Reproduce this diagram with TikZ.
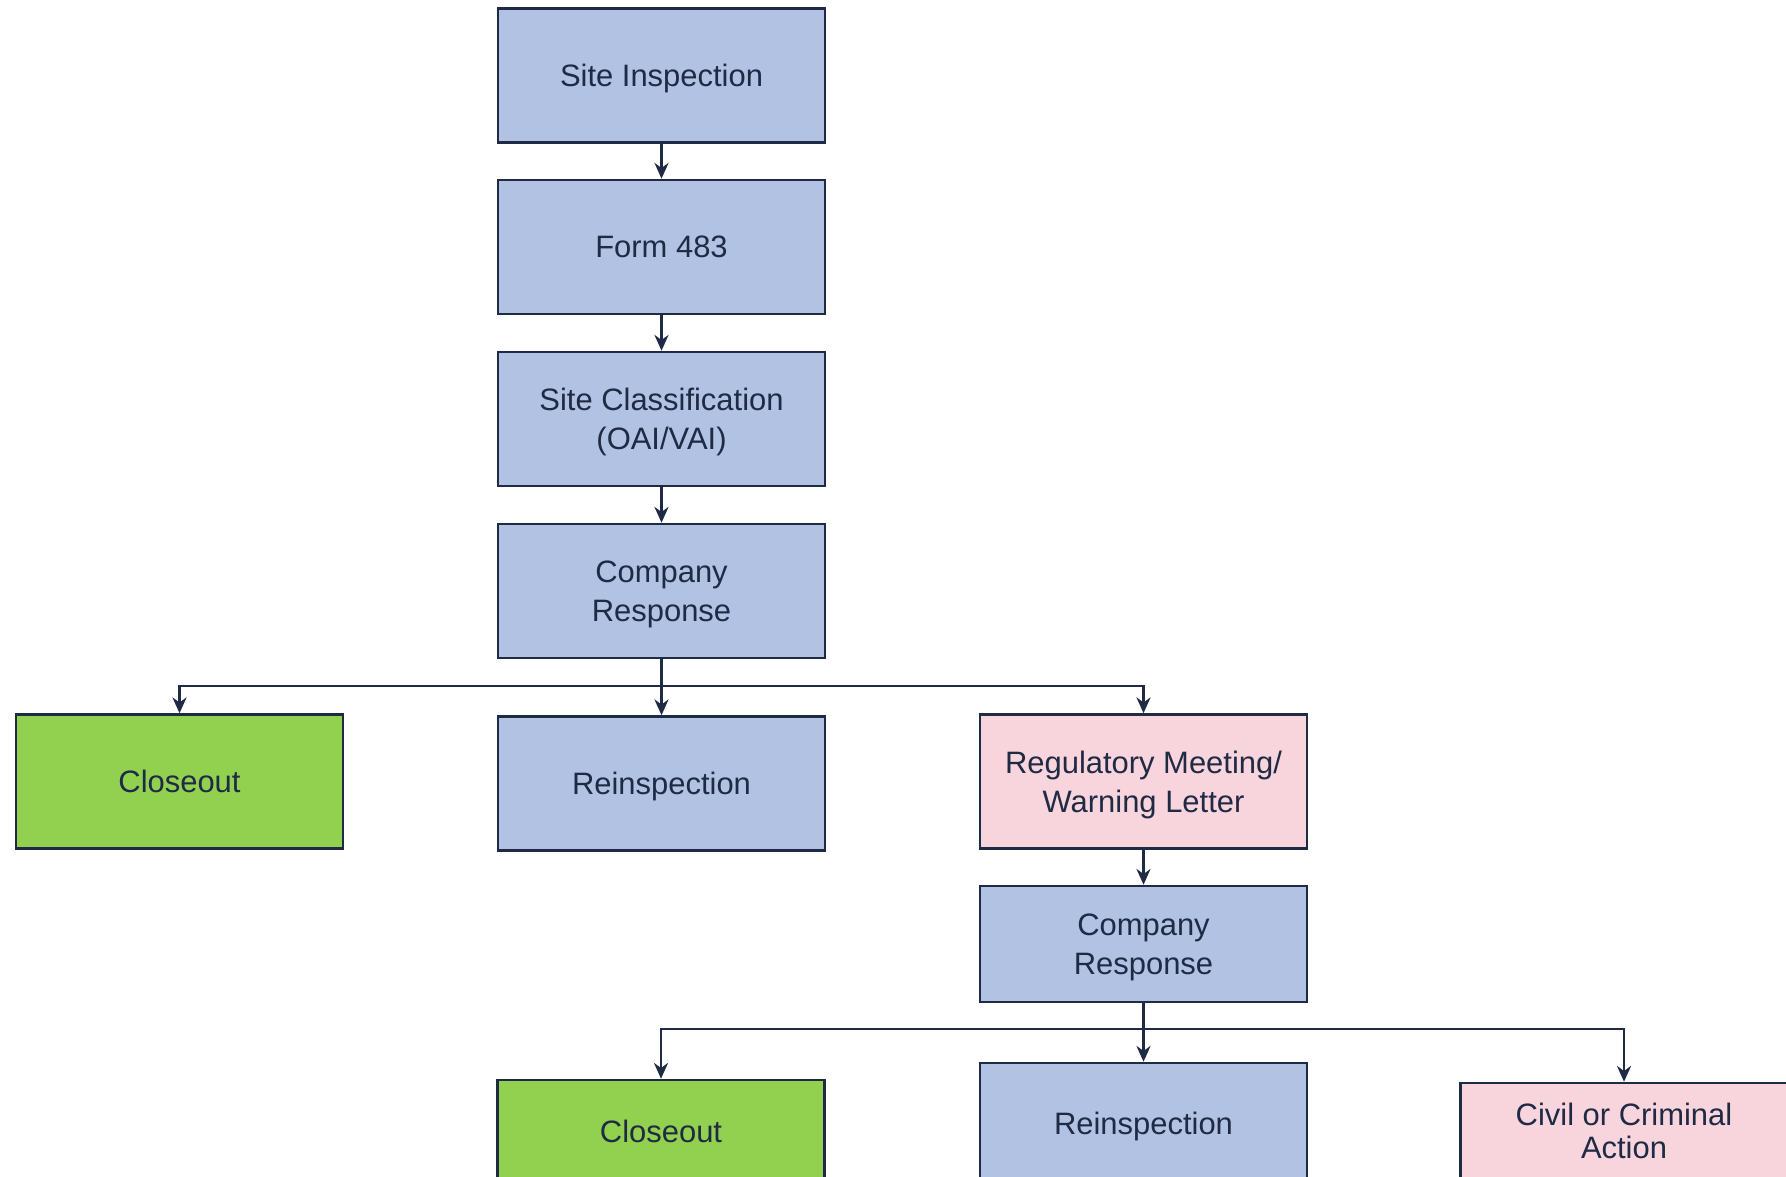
\documentclass[tikz,border=0pt]{standalone}
\usepackage{fontspec}
\setmainfont{Liberation Sans}
\usetikzlibrary{arrows.meta}
\definecolor{boxblue}{HTML}{B2C2E2}
\definecolor{boxpink}{HTML}{F8D4DC}
\definecolor{boxgreen}{HTML}{92D050}
\definecolor{navy}{HTML}{1F2A44}
\newcommand*{\boxtextstyle}{\fontsize{8.8}{11}\selectfont\color{navy}}

\begin{document}
\begin{tikzpicture}[x=0.01cm, y=-0.01cm,
    stepbox/.style = {draw = navy, line width = 0.7pt, fill = boxblue,
      minimum width = 3.27cm, minimum height = 1.34cm, inner sep = 0pt,
      text depth = 0pt, align = center, font = \boxtextstyle},
    goodbox/.style = {stepbox, fill = boxgreen},
    badbox/.style = {stepbox, fill = boxpink},
    link/.style = {draw = navy, line width = 0.7pt,
      -{Stealth[length = 4.5pt, width = 4pt]}}]
  \useasboundingbox (0,0) rectangle (1786,1177);
  \clip (0,0) rectangle (1786,1177);
  % main column
  \node[stepbox] (site) at (661.5,75.5) {Site Inspection};
  \node[stepbox] (form) at (661.5,247) {Form 483};
  \node[stepbox] (class) at (661.5,419) {Site Classification\\(OAI/VAI)};
  \node[stepbox] (resp) at (661.5,591) {Company\\Response};
  \foreach \a/\b in {site/form, form/class, class/resp} {
    \draw[link] (\a) -- (\b);
  }
  % first branch
  \node[goodbox] (close) at (179.5,781.5) {Closeout};
  \node[stepbox] (reinsp) at (661.5,783.5) {Reinspection};
  \node[badbox] (meet) at (1143.5,781.5) {Regulatory Meeting/\\Warning Letter};
  \coordinate (fork) at (661.5,686);
  \draw[link] (resp) -- (reinsp);
  \draw[link] (fork) -| (close.north);
  \draw[link] (fork) -| (meet.north);
  % second branch
  \node[stepbox, minimum height = 1.16cm] (resptwo) at (1143.5,944) {Company\\Response};
  \draw[link] (meet) -- (resptwo);
  \node[goodbox, minimum height = 1.02cm] (closetwo) at (661,1131) {Closeout};
  \node[stepbox, minimum height = 1.2cm] (reinsptwo) at (1143.5,1123) {Reinspection};
  \node[badbox, minimum height = 0.96cm,
    font = \fontsize{8.8}{9.4}\selectfont\color{navy}] (civil) at (1624,1131)
    {Civil or Criminal\\Action};
  \coordinate (forktwo) at (1143.5,1029);
  \draw[link] (resptwo) -- (reinsptwo);
  \draw[link] (forktwo) -| (closetwo.north);
  \draw[link] (forktwo) -| (civil.north);
\end{tikzpicture}
\end{document}
